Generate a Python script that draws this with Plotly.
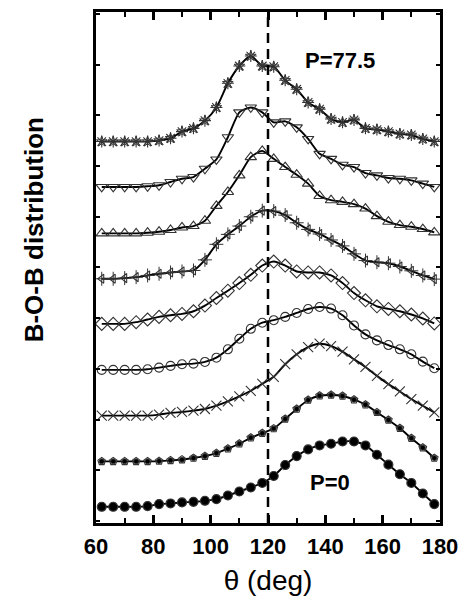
import plotly.graph_objects as go

theta = [62, 66, 70, 74, 78, 82, 86, 90, 94, 98, 102, 106, 110, 114, 118,
         122, 126, 130, 134, 138, 142, 146, 150, 154, 158, 162, 166, 170, 174, 178]

# B-O-B angle distributions (arb. units), bottom (P=0) to top (P=77.5)
p0 = [0.354, 0.354, 0.354, 0.354, 0.370, 0.413, 0.428, 0.450, 0.463, 0.485, 0.522, 0.602, 0.689, 0.776, 0.876,
      1.028, 1.267, 1.463, 1.609, 1.696, 1.733, 1.783, 1.783, 1.696, 1.493, 1.276, 1.065, 0.876, 0.646, 0.413]
s1 = [0.348, 0.348, 0.348, 0.348, 0.348, 0.354, 0.370, 0.385, 0.420, 0.463, 0.528, 0.624, 0.733, 0.863, 0.963,
      1.065, 1.276, 1.493, 1.689, 1.783, 1.798, 1.776, 1.696, 1.587, 1.420, 1.254, 1.072, 0.854, 0.646, 0.420]
s2 = [0.348, 0.348, 0.348, 0.348, 0.348, 0.370, 0.407, 0.428, 0.457, 0.493, 0.565, 0.659, 0.767, 0.891, 1.043,
      1.196, 1.472, 1.689, 1.848, 1.920, 1.870, 1.746, 1.580, 1.413, 1.217, 1.037, 0.876, 0.711, 0.565, 0.420]
s3 = [0.348, 0.348, 0.348, 0.348, 0.363, 0.398, 0.435, 0.472, 0.485, 0.522, 0.615, 0.798, 1.028, 1.246, 1.380,
      1.435, 1.507, 1.593, 1.680, 1.724, 1.689, 1.543, 1.320, 1.124, 0.993, 0.891, 0.798, 0.689, 0.528, 0.385]
s4 = [0.354, 0.354, 0.354, 0.391, 0.450, 0.507, 0.543, 0.572, 0.630, 0.754, 0.920, 1.080, 1.246, 1.428, 1.630,
      1.717, 1.630, 1.500, 1.478, 1.478, 1.413, 1.246, 1.028, 0.870, 0.739, 0.681, 0.630, 0.559, 0.472, 0.363]
s5 = [0.341, 0.341, 0.355, 0.376, 0.413, 0.450, 0.478, 0.500, 0.522, 0.754, 1.094, 1.311, 1.493, 1.696, 1.830,
      1.820, 1.733, 1.565, 1.420, 1.320, 1.189, 1.059, 0.885, 0.739, 0.703, 0.681, 0.609, 0.515, 0.413, 0.333]
s6 = [0.333, 0.333, 0.333, 0.333, 0.348, 0.370, 0.407, 0.463, 0.493, 0.609, 0.935, 1.239, 1.602, 2.000, 2.137,
      1.963, 1.783, 1.615, 1.420, 1.152, 1.059, 1.022, 0.972, 0.876, 0.711, 0.587, 0.515, 0.478, 0.428, 0.354]
s7 = [0.348, 0.348, 0.348, 0.348, 0.363, 0.385, 0.457, 0.528, 0.565, 0.746, 0.950, 1.435, 1.978, 2.087, 1.978,
      1.761, 1.783, 1.652, 1.398, 1.072, 0.963, 0.833, 0.783, 0.652, 0.602, 0.543, 0.528, 0.493, 0.420, 0.348]
s8 = [0.341, 0.341, 0.341, 0.341, 0.341, 0.363, 0.413, 0.559, 0.630, 0.798, 1.087, 1.615, 1.993, 2.211, 1.993,
      1.978, 1.680, 1.485, 1.196, 1.050, 0.833, 0.761, 0.815, 0.630, 0.602, 0.559, 0.507, 0.485, 0.398, 0.341]

series = [p0, s1, s2, s3, s4, s5, s6, s7, s8]
offsets = [0, 1, 2, 3, 4, 5, 6, 7, 8]
# (primary symbol, size, filled, overlay symbol, overlay size, overlay filled)
styles = [
    ("circle", 9, True, None, 0, False),
    ("pentagon-open", 8, False, "circle", 5, True),
    ("x-thin-open", 10, False, None, 0, False),
    ("circle-open", 9, False, None, 0, False),
    ("diamond-open", 10, False, None, 0, False),
    ("triangle-left-open", 8, False, "cross-thin-open", 10, False),
    ("triangle-up-open", 10, False, None, 0, False),
    ("triangle-down-open", 10, False, None, 0, False),
    ("asterisk-open", 10, False, "star-open", 8, False),
]

FONT = "Liberation Sans, Arial"

fig = go.Figure()
for vals, off, st in zip(series, offsets, styles):
    yv = [v + off for v in vals]
    sym, sz, filled, osym, osz, ofilled = st
    fig.add_trace(go.Scatter(
        x=theta, y=yv, mode="lines", line=dict(color="black", width=1.9, shape="spline", smoothing=0.6),
        hoverinfo="skip", showlegend=False))
    fig.add_trace(go.Scatter(
        x=theta, y=yv, mode="markers",
        marker=dict(symbol=sym, size=sz, color="black" if filled else "#333333",
                    line=dict(color="#333333", width=1.1)),
        showlegend=False))
    if osym:
        fig.add_trace(go.Scatter(
            x=theta, y=yv, mode="markers",
            marker=dict(symbol=osym, size=osz, color="black" if ofilled else "#333333",
                        line=dict(color="#333333", width=1)),
            showlegend=False))

fig.add_shape(type="line", x0=120, x1=120, y0=0, y1=1, xref="x", yref="paper",
              line=dict(color="black", width=2.5, dash="10px,6px"), layer="above")

fig.add_annotation(x=145, y=(523 - 58) / 46, text="<b>P=77.5</b>", showarrow=False,
                   font=dict(family=FONT, size=22, color="black"))
fig.add_annotation(x=141.8, y=(523 - 482) / 46, text="<b>P=0</b>", showarrow=False,
                   font=dict(family=FONT, size=22, color="black"))
fig.add_annotation(x=-0.132, y=(523 - 228) / 514, xref="paper", yref="paper", xanchor="right",
                   text="<b>B-O-B distribution</b>", textangle=-90, showarrow=False,
                   font=dict(family=FONT, size=26, color="black"))

fig.update_layout(
    width=467, height=600,
    margin=dict(l=96, r=22, t=9, b=77),
    plot_bgcolor="white", paper_bgcolor="white",
    font=dict(family=FONT, color="black"),
    showlegend=False,
)
fig.update_xaxes(
    range=[60, 180], tickmode="linear", tick0=60, dtick=20,
    ticks="inside", ticklen=8, tickwidth=2.5, tickcolor="black",
    minor=dict(ticks="inside", dtick=10, ticklen=5, tickwidth=2, tickcolor="black"),
    showline=True, linewidth=3, linecolor="black", mirror="ticks",
    showgrid=False, zeroline=False,
    tickfont=dict(family=FONT, size=22, color="black", weight="bold"),
    ticklabelstandoff=2,
    title=dict(text="θ (deg)", font=dict(family=FONT, size=28, color="black"), standoff=12),
)
fig.update_yaxes(
    range=[0, (523 - 9) / 46], tickmode="linear", tick0=0.043, dtick=1.109,
    ticks="inside", ticklen=4, tickwidth=1.5, tickcolor="black",
    showticklabels=False,
    showline=True, linewidth=3, linecolor="black", mirror="ticks",
    showgrid=False, zeroline=False,
)

fig.write_html("out.html")
